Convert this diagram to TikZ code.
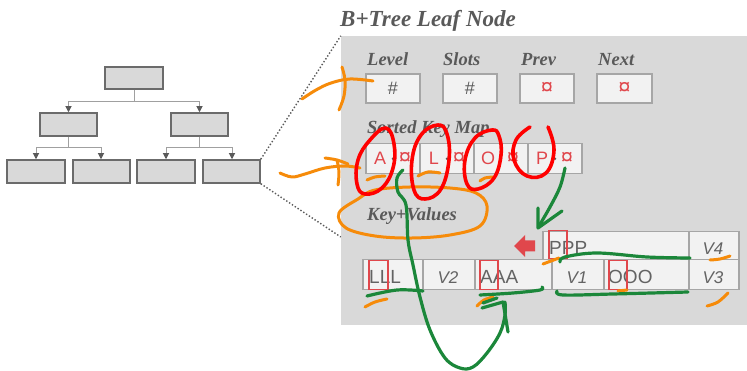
\documentclass[tikz,border=0pt]{standalone}
\usepackage{fontspec}
\setmainfont{Liberation Serif}
\newfontfamily\cellfont{Liberation Sans}
\usetikzlibrary{arrows.meta}
\definecolor{boxgray}{HTML}{D9D9D9}
\definecolor{boxedge}{HTML}{6B6B6B}
\definecolor{linkgray}{HTML}{A0A0A0}
\definecolor{tipgray}{HTML}{5A5A5A}
\definecolor{cellfill}{HTML}{F2F2F2}
\definecolor{celledge}{HTML}{A6A6A6}
\definecolor{inkgray}{HTML}{595959}
\definecolor{textgray}{HTML}{636363}
\definecolor{keyred}{HTML}{E0474C}
\definecolor{penorange}{HTML}{F68B0A}
\definecolor{penred}{HTML}{FF0000}
\definecolor{pengreen}{HTML}{1B873A}
\tikzset{
  treebox/.style={draw=boxedge, fill=boxgray, line width=1.5pt, inner sep=0pt},
  link/.style={draw=linkgray, line width=1pt},
  linkarrow/.style={link, -{Triangle[length=6pt,width=6pt,color=tipgray]}},
  cellbox/.style={draw=celledge, fill=cellfill, line width=1.5pt, inner sep=0pt},
  hilite/.style={draw=keyred, line width=1.5pt, inner sep=0pt},
  heading/.style={font=\fontsize{18.5}{20}\selectfont\bfseries\itshape, text=inkgray, inner sep=0pt},
  celltext/.style={font=\cellfont\fontsize{19}{20}\selectfont, text=textgray, inner sep=0pt},
  valtext/.style={font=\cellfont\itshape\fontsize{17}{20}\selectfont, text=textgray, inner sep=0pt},
  keytext/.style={font=\cellfont\fontsize{16}{18}\selectfont, text=keyred, inner sep=0pt},
  nulltext/.style={font=\cellfont\fontsize{22}{24}\selectfont, text=keyred, inner sep=0pt},
  hashtext/.style={font=\cellfont\fontsize{18}{20}\selectfont, text=tipgray, inner sep=0pt},
  orangepen/.style={draw=penorange, line width=3pt, line cap=round, line join=round},
  redpen/.style={draw=penred, line width=3.6pt, line cap=round, line join=round},
  greenpen/.style={draw=pengreen, line width=3.2pt, line cap=round, line join=round},
}
\begin{document}
\begin{tikzpicture}[x=1pt, y=-1pt]
\useasboundingbox (0,0) rectangle (747,371);

% ---- small B+Tree ----
\node[treebox, minimum width=58pt, minimum height=22pt] (root) at (134,78) {};
\node[treebox, minimum width=57pt, minimum height=23pt] (ia) at (68.5,124.5) {};
\node[treebox, minimum width=57pt, minimum height=23pt] (ib) at (199.5,124.5) {};
\node[treebox, minimum width=58pt, minimum height=23pt] (la) at (36,171.5) {};
\node[treebox, minimum width=57pt, minimum height=23pt] (lb) at (101.5,171.5) {};
\node[treebox, minimum width=58pt, minimum height=23pt] (lc) at (166,171.5) {};
\node[treebox, minimum width=57pt, minimum height=23pt] (ld) at (231.5,171.5) {};

\draw[link] (root.south) -- (root.south |- 0,102) coordinate (j0);
\draw[linkarrow] (j0) -| (ia.north);
\draw[linkarrow] (j0) -| (ib.north);
\draw[link] (ia.south) -- (ia.south |- 0,148) coordinate (j1);
\draw[linkarrow] (j1) -| ([xshift=-32.5pt]ia.south |- la.north);
\draw[linkarrow] (j1) -| ([xshift=32.5pt]ia.south |- lb.north);
\draw[link] (ib.south) -- (ib.south |- 0,148) coordinate (j2);
\draw[linkarrow] (j2) -| ([xshift=-33.5pt]ib.south |- lc.north);
\draw[linkarrow] (j2) -| ([xshift=32.5pt]ib.south |- ld.north);

% ---- leaf node panel ----
\node[fill=boxgray, minimum width=406pt, minimum height=289pt, inner sep=0pt] (panel) at (544,180.5) {};
\draw[tipgray, line width=1.4pt, dash pattern=on 1.4pt off 2pt] (ld.north east) -- (panel.north west);
\draw[tipgray, line width=1.4pt, dash pattern=on 1.4pt off 2pt] (ld.south east) -- (panel.north west |- 0,237);

\node[font=\fontsize{23}{26}\selectfont\bfseries\itshape, text=inkgray, anchor=base west, inner sep=0pt] (title) at (340,27) {B+Tree Leaf Node};

% header fields
\node[heading, anchor=base west] (hlevel) at (367,66) {Level};
\node[heading, anchor=base west] (hslots) at (443,66) {Slots};
\node[heading, anchor=base west] (hprev) at (521,66) {Prev};
\node[heading, anchor=base west] (hnext) at (598,66) {Next};
\node[cellbox, minimum width=54pt, minimum height=29pt] (flevel) at (393,88.5) {};
\node[cellbox, minimum width=54pt, minimum height=29pt] (fslots) at (470,88.5) {};
\node[cellbox, minimum width=54pt, minimum height=29pt] (fprev) at (547,88.5) {};
\node[cellbox, minimum width=55pt, minimum height=29pt] (fnext) at (624.5,88.5) {};
\node[hashtext] at (flevel) {\#};
\node[hashtext] at (fslots) {\#};
\node[nulltext] at (fprev) {¤};
\node[nulltext] at (fnext) {¤};

% sorted key map
\node[heading, anchor=base west] (hkeymap) at (367,134) {Sorted Key Map};
\foreach \i/\k/\x in {1/A/365, 2/L/419, 3/O/473, 4/P/527} {
  \node[cellbox, minimum width=54pt, minimum height=30pt, anchor=north west] (km\i) at (\x,143) {};
  \node[keytext, font=\cellfont\fontsize{18}{20}\selectfont] (kk\i) at ([xshift=15pt]km\i.west) {\k};
  \fill[tipgray] ([xshift=28pt]km\i.west) circle (1.3pt);
  \node[nulltext] (kp\i) at ([xshift=40pt]km\i.west) {¤};
}

% key-values area
\node[heading, anchor=base west] (hkv) at (367,221) {Key+Values};
\node[cellbox, minimum width=146pt, minimum height=28pt, anchor=north west] (cppp) at (542,231) {};
\node[cellbox, minimum width=50pt, minimum height=28pt, anchor=north west] (cv4) at (688,231) {};
\node[cellbox, minimum width=60pt, minimum height=30pt, anchor=north west] (clll) at (362,259) {};
\node[cellbox, minimum width=52pt, minimum height=30pt, anchor=north west] (cv2) at (422,259) {};
\node[cellbox, minimum width=77pt, minimum height=30pt, anchor=north west] (caaa) at (474,259) {};
\node[cellbox, minimum width=52pt, minimum height=30pt, anchor=north west] (cv1) at (551,259) {};
\node[cellbox, minimum width=85pt, minimum height=30pt, anchor=north west] (cooo) at (603,259) {};
\node[cellbox, minimum width=50pt, minimum height=30pt, anchor=north west] (cv3) at (688,259) {};

\node[celltext, anchor=base west] at (549,255) {PPP};
\node[celltext, anchor=base west] at (369,284) {LLL};
\node[celltext, anchor=base west] at (480,284) {AAA};
\node[celltext, anchor=base west] at (608,284) {OOO};
\node[valtext, anchor=base] at (713,255) {V4};
\node[valtext, anchor=base] at (448,284) {V2};
\node[valtext, anchor=base] at (577,284) {V1};
\node[valtext, anchor=base] at (713,284) {V3};

\node[hilite, minimum width=18pt, minimum height=28pt, anchor=north west] (mp) at (548,230) {};
\node[hilite, minimum width=19pt, minimum height=29pt, anchor=north west] (ml) at (368,260) {};
\node[hilite, minimum width=18pt, minimum height=29pt, anchor=north west] (ma) at (479,260) {};
\node[hilite, minimum width=18pt, minimum height=29pt, anchor=north west] (mo) at (608,260) {};

% insert arrow
\fill[keyred] (514,246) -- (525,235) -- (525,240.5) -- (535,240.5) -- (535,251.5) -- (525,251.5) -- (525,257) -- cycle;

% ---- pen marks: orange ----
\draw[orangepen] plot[smooth, tension=0.6] coordinates {(302,99) (316,90) (331,83) (350,79) (373,81)};
\draw[orangepen] plot[smooth, tension=0.6] coordinates {(342,67) (345,80) (344,96) (339,110)};
\draw[orangepen] plot[smooth, tension=0.6] coordinates {(280,173) (292,177) (305,174) (325,168) (345,166) (360,168)};
\draw[orangepen] plot[smooth, tension=0.6] coordinates {(325,158) (337,160) (348,164)};
\draw[orangepen] plot[smooth, tension=0.6] coordinates {(337,160) (339,172) (338,185)};
\draw[orangepen] plot[smooth cycle, tension=0.6] coordinates {(358,199) (375,190) (410,187) (450,188) (476,193) (487,206) (480,226) (450,235) (412,238) (375,236) (346,228) (339,213)};
\draw[orangepen] plot[smooth, tension=0.6] coordinates {(367,180) (375,177) (385,176)};
\draw[orangepen] plot[smooth, tension=0.6] coordinates {(418,176) (428,172) (440,173)};
\draw[orangepen] plot[smooth, tension=0.6] coordinates {(480,181) (485,178) (493,177)};
\draw[orangepen] (543,264) -- (559,258);
\draw[orangepen] plot[smooth, tension=0.6] coordinates {(710,260) (720,259) (730,256)};
\draw[orangepen] plot[smooth, tension=0.6] coordinates {(707,306) (718,302) (728,293)};
\draw[orangepen] plot[smooth, tension=0.6] coordinates {(365,307) (375,302) (387,299)};
\draw[orangepen] plot[smooth, tension=0.6] coordinates {(477,306) (484,300) (493,297)};
\draw[orangepen] (618,291) -- (627,290);

% ---- pen marks: red ----
\draw[redpen] plot[smooth cycle, tension=0.7] coordinates {(386,128) (370,140) (358,160) (357,184) (365,194) (382,188) (393,168) (394,144)};
\draw[redpen] plot[smooth cycle, tension=0.7] coordinates {(438,125) (421,135) (412,160) (414,190) (425,199) (441,189) (449,160) (447,134)};
\draw[redpen] plot[smooth cycle, tension=0.7] coordinates {(492,130) (475,138) (465,160) (467,184) (478,189) (494,178) (501,155) (499,136)};
\draw[redpen] plot[smooth, tension=0.7] coordinates {(530,127) (516,140) (514,160) (527,176) (546,173) (554,150) (548,127)};

% ---- pen marks: green ----
\draw[greenpen] plot[smooth, tension=0.6] coordinates {(403,170) (397,178) (398,192) (406,205) (408,240) (413,265) (420,297) (430,330) (445,358) (460,368) (473,367) (487,353) (500,333) (505,315) (505,302)};
\draw[greenpen] (482,308) -- (503,302) -- (508,332);
\draw[greenpen] (483,303) -- (497,298);
\draw[greenpen] plot[smooth, tension=0.6] coordinates {(565,168) (560,187) (550,207) (539,226)};
\draw[greenpen] (538,208) -- (538,228) -- (562,211);
\draw[greenpen] plot[smooth, tension=0.6] coordinates {(560,262) (565,257) (597,253) (647,257) (690,258)};
\draw[greenpen] plot[smooth, tension=0.6] coordinates {(557,291) (563,295) (613,294) (688,292)};
\draw[greenpen] plot[smooth, tension=0.6] coordinates {(367,296) (397,290) (423,291)};
\draw[greenpen] plot[smooth, tension=0.6] coordinates {(480,295) (513,293) (540,290) (542,287)};
\end{tikzpicture}
\end{document}
